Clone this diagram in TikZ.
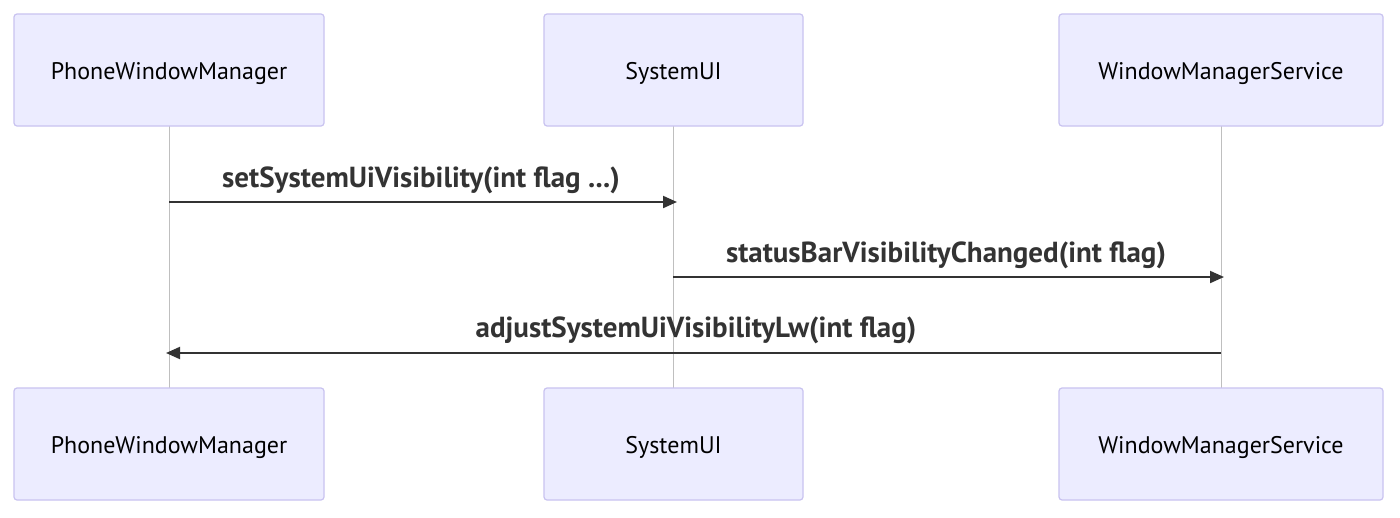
\documentclass[tikz,border=0pt]{standalone}
\usepackage{fontspec}
\setmainfont{PT Sans}
\usetikzlibrary{arrows.meta}
\definecolor{actfill}{HTML}{ECECFF}
\definecolor{actdraw}{HTML}{C9C3F0}
\definecolor{lifeline}{HTML}{BFBFBF}
\definecolor{msg}{HTML}{333333}
\tikzset{
  actor/.style={draw=actdraw, fill=actfill, line width=1.2pt, rounded corners=3pt, minimum width=#1, minimum height=112pt, inner sep=0pt, text height=22pt, text depth=4pt, font=\fontsize{24}{28}\selectfont, text=black},
  life/.style={draw=lifeline, line width=1pt},
  msgline/.style={draw=msg, line width=2pt, -{Triangle[length=14pt,width=12pt]}},
  msglabel/.style={font=\bfseries\fontsize{29}{33}\selectfont, text=msg, inner sep=0pt}
}
\begin{document}
\begin{tikzpicture}[x=1pt,y=-1pt]
\useasboundingbox (0,0) rectangle (1400,517);
\fill[white] (0,0) rectangle (1400,517);
% lifelines
\coordinate (l1t) at (169,126); \coordinate (l1b) at (169,388);
\coordinate (l2t) at (673,126); \coordinate (l2b) at (673,388);
\coordinate (l3t) at (1221,126); \coordinate (l3b) at (1221,388);
\draw[life] (l1t) -- (l1b);
\draw[life] (l2t) -- (l2b);
\draw[life] (l3t) -- (l3b);
% actors
\node[actor=310pt] (a1) at (169,70) {PhoneWindowManager};
\node[actor=259pt] (a2) at (673.5,70) {SystemUI};
\node[actor=324pt] (a3) at (1221,70) {WindowManagerService};
\node[actor=310pt] (b1) at (169,444) {PhoneWindowManager};
\node[actor=259pt] (b2) at (673.5,444) {SystemUI};
\node[actor=324pt] (b3) at (1221,444) {WindowManagerService};
% messages
\coordinate (m1s) at (169,202); \coordinate (m1e) at (677,202);
\coordinate (m2s) at (673,277); \coordinate (m2e) at (1224,277);
\coordinate (m3s) at (1221,353); \coordinate (m3e) at (166,353);
\draw[msgline] (m1s) -- (m1e);
\draw[msgline] (m2s) -- (m2e);
\draw[msgline] (m3s) -- (m3e);
\node[msglabel] (t1) at (421,180) {setSystemUiVisibility(int flag ...)};
\node[msglabel] (t2) at (946,255) {statusBarVisibilityChanged(int flag)};
\node[msglabel] (t3) at (696,330) {adjustSystemUiVisibilityLw(int flag)};
\end{tikzpicture}
\end{document}
